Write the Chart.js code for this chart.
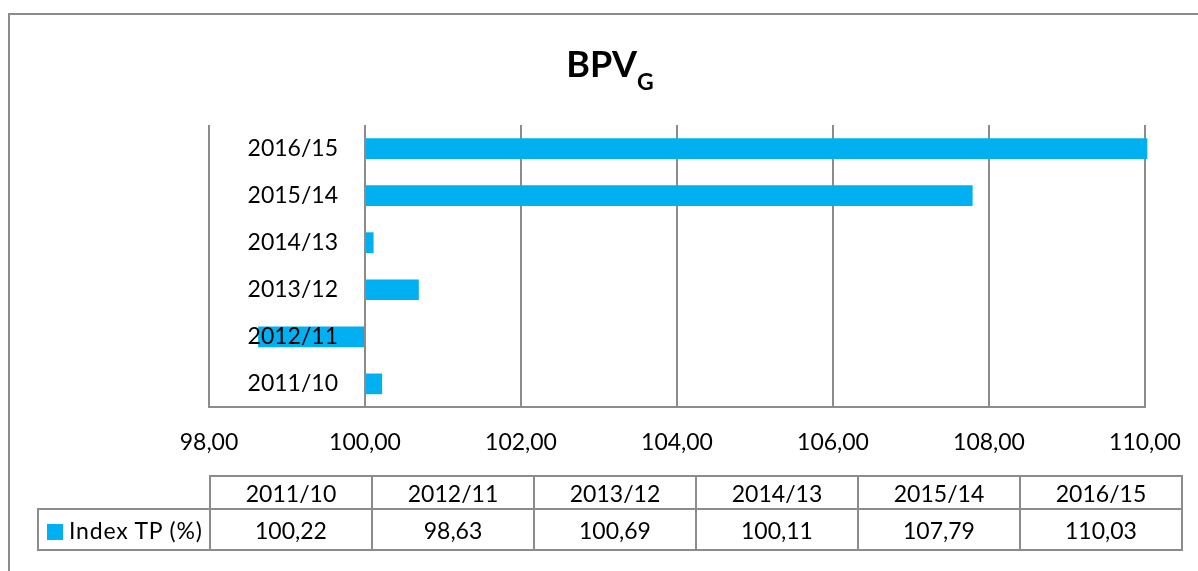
<!DOCTYPE html>
<html>
<head>
<meta charset="utf-8">
<title>BPV G</title>
<script src="https://cdn.jsdelivr.net/npm/chart.js@4.4.1/dist/chart.umd.min.js"></script>
<style>
  html, body { margin: 0; padding: 0; background: #fff; overflow: hidden; }
  #wrap { position: relative; width: 1198px; height: 571px; overflow: hidden; font-family: Lato, "Open Sans", sans-serif; color: #000; }
  #frame { position: absolute; left: 8px; top: 13px; width: 1240px; height: 600px; border: 2px solid #8c8c8c; box-sizing: border-box; }
  #chart { position: absolute; left: 0; top: 0; }
  #title { position: absolute; left: 0; width: 1220px; top: 45px; text-align: center; font-weight: bold; font-size: 36px; line-height: 36px; }
  #title span { font-size: 23px; vertical-align: -13px; }
  #dataTable { position: absolute; left: 37px; top: 475px; border-collapse: collapse; table-layout: fixed; font-size: 23px; }
  #dataTable td { border: 2px solid #8c8c8c; text-align: center; vertical-align: middle; padding: 0; white-space: nowrap; }
  #dataTable td.blank { border: none; }
  #dataTable td.legend { text-align: left; padding-left: 8px; letter-spacing: 0.8px; }
  #dataTable .swatch { display: inline-block; width: 16px; height: 16px; margin-right: 6px; vertical-align: -1px; }
</style>
</head>
<body>
<div id="wrap">
  <div id="frame"></div>
  <!-- canvas runs past the right edge so the last tick label doesn't squeeze the plot -->
  <canvas id="chart" width="1260" height="571"></canvas>
  <div id="title">BPV<span>G</span></div>
  <table id="dataTable"></table>
</div>
<script>
// chart data
const categories = ['2011/10', '2012/11', '2013/12', '2014/13', '2015/14', '2016/15'];
const indexTP = [100.22, 98.63, 100.69, 100.11, 107.79, 110.03];
const xTicks = [98, 100, 102, 104, 106, 108, 110];
const baseValue = 100;
const seriesName = 'Index TP (%)';

const barColor = '#00b0f0';
const lineColor = '#8c8c8c';
const fmt = (v) => v.toFixed(2).replace('.', ',');

// category labels sit inside the plot, left of the 100 line, over the bars
const yLabels = {
  id: 'yLabels',
  afterDatasetsDraw(chart) {
    const { ctx, scales: { x, y } } = chart;
    ctx.save();
    ctx.font = '23px Lato';
    ctx.fillStyle = '#000';
    ctx.textAlign = 'right';
    ctx.textBaseline = 'middle';
    const right = x.getPixelForValue(baseValue) - 27;
    categories.forEach((c, i) => ctx.fillText(c, right, y.getPixelForValue(i)));
    ctx.restore();
  }
};

new Chart(document.getElementById('chart'), {
  type: 'bar',
  data: {
    labels: categories,
    datasets: [{
      label: seriesName,
      data: indexTP,
      base: baseValue,
      backgroundColor: barColor,
      borderWidth: 0,
      categoryPercentage: 1,
      barPercentage: 0.44,
      clip: false
    }]
  },
  options: {
    indexAxis: 'y',
    responsive: false,
    devicePixelRatio: 1,
    animation: false,
    layout: { padding: { left: 209, right: 115, top: 125, bottom: 94 } },
    plugins: {
      legend: { display: false },
      title: { display: false },
      tooltip: { enabled: false }
    },
    scales: {
      x: {
        min: xTicks[0],
        max: xTicks[xTicks.length - 1],
        afterBuildTicks: (scale) => { scale.ticks = xTicks.map(v => ({ value: v })); },
        grid: { color: lineColor, lineWidth: 2, drawTicks: false },
        border: { display: true, color: lineColor, width: 2 },
        ticks: {
          padding: 21,
          color: '#000',
          font: { family: 'Lato', size: 23 },
          callback: (v) => fmt(v)
        }
      },
      y: {
        display: false,
        reverse: true
      }
    }
  },
  plugins: [yLabels]
});

// data table under the chart
const table = document.getElementById('dataTable');
const colgroup = document.createElement('colgroup');
colgroup.innerHTML = '<col style="width:172px">' + categories.map(() => '<col style="width:162px">').join('');
table.appendChild(colgroup);

const head = table.insertRow();
head.style.height = '33px';
head.insertCell().className = 'blank';
categories.forEach(c => { head.insertCell().textContent = c; });

const row = table.insertRow();
row.style.height = '41px';
const legendCell = row.insertCell();
legendCell.className = 'legend';
const swatch = document.createElement('span');
swatch.className = 'swatch';
swatch.style.background = barColor;
legendCell.appendChild(swatch);
legendCell.appendChild(document.createTextNode(seriesName));
indexTP.forEach(v => { row.insertCell().textContent = fmt(v); });
</script>
</body>
</html>
